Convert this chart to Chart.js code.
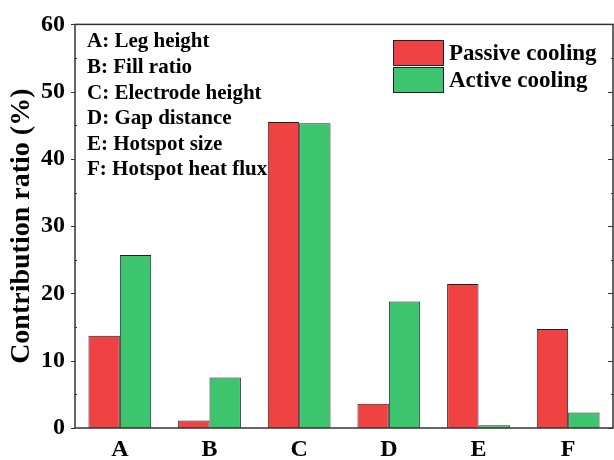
<!DOCTYPE html>
<html>
<head>
<meta charset="utf-8">
<script src="https://cdn.jsdelivr.net/npm/chart.js@4"></script>
<style>
html, body { margin: 0; padding: 0; background: #fff; }
#wrap { width: 614px; height: 460px; }
</style>
</head>
<body>
<div id="wrap"><canvas id="chart" width="614" height="460"></canvas></div>
<script>
const categories = ["A", "B", "C", "D", "E", "F"];
const passive = [13.7, 1.1, 45.5, 3.6, 21.4, 14.7];
const active = [25.7, 7.5, 45.3, 18.8, 0.4, 2.3];
const yTicks = [0, 10, 20, 30, 40, 50, 60];
const notes = [
  "A: Leg height",
  "B: Fill ratio",
  "C: Electrode height",
  "D: Gap distance",
  "E: Hotspot size",
  "F: Hotspot heat flux",
];

const serif = "'Liberation Serif', 'Times New Roman', serif";

// frame, ticks, notes and the legend inside the plot
const extras = {
  id: "extras",
  afterDraw(chart) {
    const c = chart.ctx;
    const a = chart.chartArea;
    const y = chart.scales.y;
    c.save();
    c.strokeStyle = "#333";
    c.lineWidth = 1.5;
    c.strokeRect(a.left, a.top, a.right - a.left, a.bottom - a.top);
    c.lineWidth = 1.2;
    for (let v = 0; v <= 60; v += 5) {
      const p = Math.round(y.getPixelForValue(v)) + 0.5;
      const major = v % 10 === 0;
      c.beginPath();
      if (major) {
        c.moveTo(a.left - 4, p);
        c.lineTo(a.left, p);
        c.moveTo(a.right - 5, p);
      } else {
        c.moveTo(a.left, p);
        c.lineTo(a.left + 2, p);
        c.moveTo(a.right - 2, p);
      }
      c.lineTo(a.right, p);
      c.stroke();
    }

    c.fillStyle = "#000";
    c.font = "bold 21px " + serif;
    c.textBaseline = "middle";
    notes.forEach((t, i) => c.fillText(t, 87, 42 + i * 25.6));

    const ds = chart.data.datasets;
    c.font = "bold 23px " + serif;
    ds.forEach((d, i) => {
      const top = 40 + i * 27;
      c.fillStyle = d.backgroundColor;
      c.fillRect(393, top, 50, 25);
      c.strokeStyle = "#222";
      c.lineWidth = 1;
      c.strokeRect(393.5, top + 0.5, 50, 25);
      c.fillStyle = "#000";
      c.fillText(d.label, 449, top + 14);
    });
    c.restore();
  },
};

new Chart(document.getElementById("chart"), {
  type: "bar",
  data: {
    labels: categories,
    datasets: [
      {
        label: "Passive cooling",
        data: passive,
        backgroundColor: "#F04242",
        borderColor: "#222",
        borderWidth: 1,
      },
      {
        label: "Active cooling",
        data: active,
        backgroundColor: "#3CC46E",
        borderColor: "#222",
        borderWidth: 1,
      },
    ],
  },
  options: {
    responsive: false,
    animation: false,
    layout: { padding: { top: 23, right: 1, left: 0, bottom: 0 } },
    datasets: { bar: { categoryPercentage: 0.7, barPercentage: 1 } },
    plugins: {
      legend: { display: false },
      tooltip: { enabled: false },
    },
    scales: {
      x: {
        grid: { display: false, drawTicks: false },
        border: { display: false },
        ticks: { color: "#000", font: { family: serif, size: 24, weight: "bold" }, padding: 7 },
        afterFit(s) { s.height = 32; },
      },
      y: {
        min: 0,
        max: 60,
        afterBuildTicks(s) { s.ticks = yTicks.map((v) => ({ value: v })); },
        grid: { display: false, drawTicks: false },
        border: { display: false },
        ticks: { color: "#000", font: { family: serif, size: 24, weight: "bold" }, padding: 10 },
        title: {
          display: true,
          text: "Contribution ratio (%)",
          color: "#000",
          font: { family: serif, size: 28, weight: "bold" },
          padding: { top: 5, bottom: 0 },
        },
        afterFit(s) { s.width = 75; },
      },
    },
  },
  plugins: [extras],
});
</script>
</body>
</html>
